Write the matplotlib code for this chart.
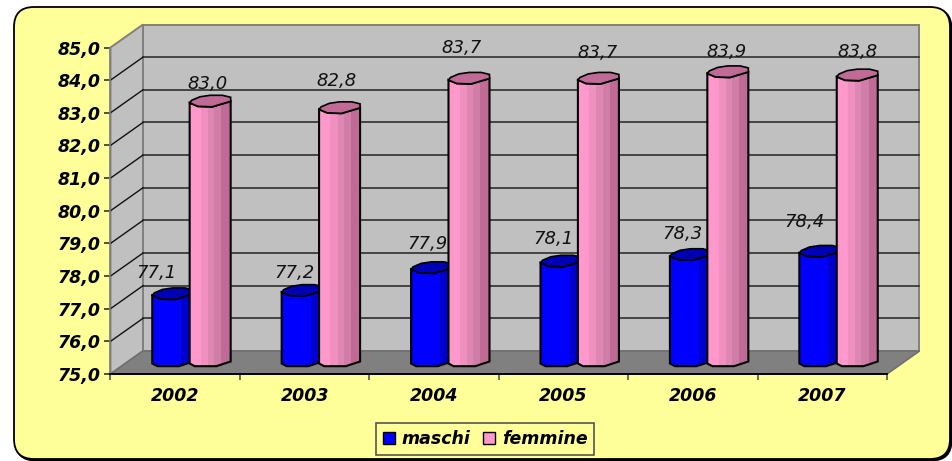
import matplotlib
matplotlib.use("Agg")
import matplotlib.pyplot as plt
from matplotlib.patches import FancyBboxPatch, Patch, Polygon, Rectangle

anni = ["2002", "2003", "2004", "2005", "2006", "2007"]
maschi = [77.1, 77.2, 77.9, 78.1, 78.3, 78.4]
femmine = [83.0, 82.8, 83.7, 83.7, 83.9, 83.8]
y_ticks = [75, 76, 77, 78, 79, 80, 81, 82, 83, 84, 85]

W, H = 953, 461
PX_X = 776.5 / 6      # pixel per categoria
PX_Y = 326.5 / 10     # pixel per unita'
DEPTH_X = 32.5 / PX_X
DEPTH_Y = 23 / PX_Y

# scostamento delle etichette rispetto alla cima della barra (pixel)
lab_m = [(-16, 21), (-7.5, 17.7), (-4, 23.8), (-8, 22.3), (-8, 20.8), (-15, 29.5)]
lab_f = [(-2.5, 17.3), (-3, 26.8), (-7, 30.4), (-1, 25.4), (-1, 19.9), (0, 23.2)]

STRIP_M = [(-1.0, 0.42, "#0000FF"), (0.42, 1.0, "#0000CC")]
STRIP_F = [(-1.0, -0.45, "#FF99CC"), (-0.45, -0.1, "#F090C0"), (-0.1, 0.2, "#DF87B3"),
           (0.2, 0.55, "#D07DA8"), (0.55, 1.0, "#C06A96")]

plt.rcParams["font.family"] = ["DejaVu Sans"]
fig = plt.figure(figsize=(W / 100, H / 100), dpi=100, facecolor="white")

# sfondo giallo arrotondato
bg = fig.add_axes([0, 0, 1, 1], zorder=0)
bg.set_xlim(0, W)
bg.set_ylim(H, 0)
bg.axis("off")
for off, fc in [(1.5, "black"), (0, "#FFFF99")]:
    bg.add_patch(FancyBboxPatch((34 + off, 27 + off), 896, 412,
                                boxstyle="round,pad=20,rounding_size=20",
                                fc=fc, ec="black", lw=1.3, clip_on=False))

ax = fig.add_axes([110.5 / W, (H - 374) / H, 776.5 / W, 326.5 / H], zorder=1)
ax.set_xlim(0, 6)
ax.set_ylim(75, 85)
ax.patch.set_alpha(0)

# pareti e pavimento
ax.add_patch(Polygon([(DEPTH_X, 75 + DEPTH_Y), (6 + DEPTH_X, 75 + DEPTH_Y),
                      (6 + DEPTH_X, 85 + DEPTH_Y), (DEPTH_X, 85 + DEPTH_Y)],
                     fc="#C0C0C0", ec="#808080", lw=1.4, clip_on=False, zorder=1))
ax.add_patch(Polygon([(0, 75), (DEPTH_X, 75 + DEPTH_Y), (DEPTH_X, 85 + DEPTH_Y), (0, 85)],
                     fc="#C0C0C0", ec="#808080", lw=1.4, clip_on=False, zorder=1))
ax.add_patch(Polygon([(0, 75), (6, 75), (6 + DEPTH_X, 75 + DEPTH_Y), (DEPTH_X, 75 + DEPTH_Y)],
                     fc="#808080", ec="#707070", lw=1.2, clip_on=False, zorder=1))
for v in y_ticks[1:-1]:
    ax.plot([DEPTH_X, 6 + DEPTH_X], [v + DEPTH_Y] * 2, color="#3A3A3A", lw=1.3,
            clip_on=False, zorder=2)
    ax.plot([0, DEPTH_X], [v, v + DEPTH_Y], color="#111111", lw=1.0, clip_on=False, zorder=2)


def cilindro(cx, val, strips, top_fc, z):
    hw = 20.5 / PX_X
    cy = lambda base, px: base - px / PX_Y
    base = 75 + DEPTH_Y / 2
    top = val + DEPTH_Y / 2
    front = [(-1, 1.5), (-0.6, 5), (0.1, 5.5), (0.5, 3), (1, 0)]
    back = [(1, -4), (0.6, -6), (0, -6), (-0.5, -4.5), (-0.9, -1)]
    body = [(cx + a * hw, cy(top, b)) for a, b in front]
    bottom = [(1, -1), (0.3, 3.7), (-0.75, 3.7), (-1, 1)]
    body += [(cx + a * hw, cy(base, b)) for a, b in bottom]
    sil = Polygon(body, fc="none", ec="none", clip_on=False, zorder=z)
    ax.add_patch(sil)
    for a, b, col in strips:
        r = Rectangle((cx + a * hw, 75), (b - a) * hw, top - 70, fc=col, ec="none", zorder=z)
        ax.add_patch(r)
        r.set_clip_path(sil)
    ax.add_patch(Polygon(body, fc="none", ec="black", lw=1.5, clip_on=False, zorder=z + 0.1))
    cap = [(cx + a * hw, cy(top, b)) for a, b in front + back]
    ax.add_patch(Polygon(cap, fc=top_fc, ec="black", lw=1.2, clip_on=False, zorder=z + 0.2))


SHIFT = DEPTH_X / 2
for i in range(len(anni)):
    centro = i + 0.5 + SHIFT
    cilindro(centro - 18.7 / PX_X, maschi[i], STRIP_M, "#0000B4", 3 + i)
    cilindro(centro + 18.7 / PX_X, femmine[i], STRIP_F, "#C06A96", 3.5 + i)
    for serie, off, dx in [(maschi, lab_m, -18.7), (femmine, lab_f, 18.7)]:
        ax.annotate(f"{serie[i]:.1f}".replace(".", ","),
                    (centro + dx / PX_X, serie[i] + DEPTH_Y / 2),
                    xytext=(off[i][0] * 0.72, off[i][1] * 0.72), textcoords="offset points",
                    ha="center", va="center", fontsize=13, style="italic",
                    color="#111111", annotation_clip=False, zorder=20)

# assi
ax.set_yticks(y_ticks)
ax.set_yticklabels([f"{v:.1f}".replace(".", ",") for v in y_ticks],
                   fontsize=12.5, fontweight="bold", style="italic")
ax.set_xticks(range(7))
ax.set_xticklabels([])
ax.set_xticks([i + 0.5 for i in range(6)], anni, minor=True,
              fontsize=12.5, fontweight="bold", style="italic")
ax.tick_params(axis="x", which="minor", length=0, pad=9)
ax.tick_params(axis="x", which="major", length=4, color="#555555", width=1.2)
ax.tick_params(axis="y", length=4, color="#333333", width=1.2, pad=3)
for s in ["top", "right"]:
    ax.spines[s].set_visible(False)
ax.spines["left"].set_color("#808080")
ax.spines["left"].set_linewidth(1.2)
ax.spines["bottom"].set_color("black")
ax.spines["bottom"].set_linewidth(1.4)

leg = fig.legend(handles=[Patch(fc="#0000FF", ec="black", label="maschi"),
                          Patch(fc="#FF99CC", ec="black", label="femmine")],
                 loc="center", bbox_to_anchor=(485 / W, (H - 439) / H), ncol=2,
                 fancybox=False, facecolor="#FFFF99", edgecolor="#555555", framealpha=1,
                 handlelength=0.7, handleheight=0.7, handletextpad=0.4, columnspacing=0.7,
                 borderpad=0.4, prop={"size": 12.5, "weight": "bold", "style": "italic"})
leg.get_frame().set_linewidth(1.2)

fig.savefig("out.png", dpi=100)
